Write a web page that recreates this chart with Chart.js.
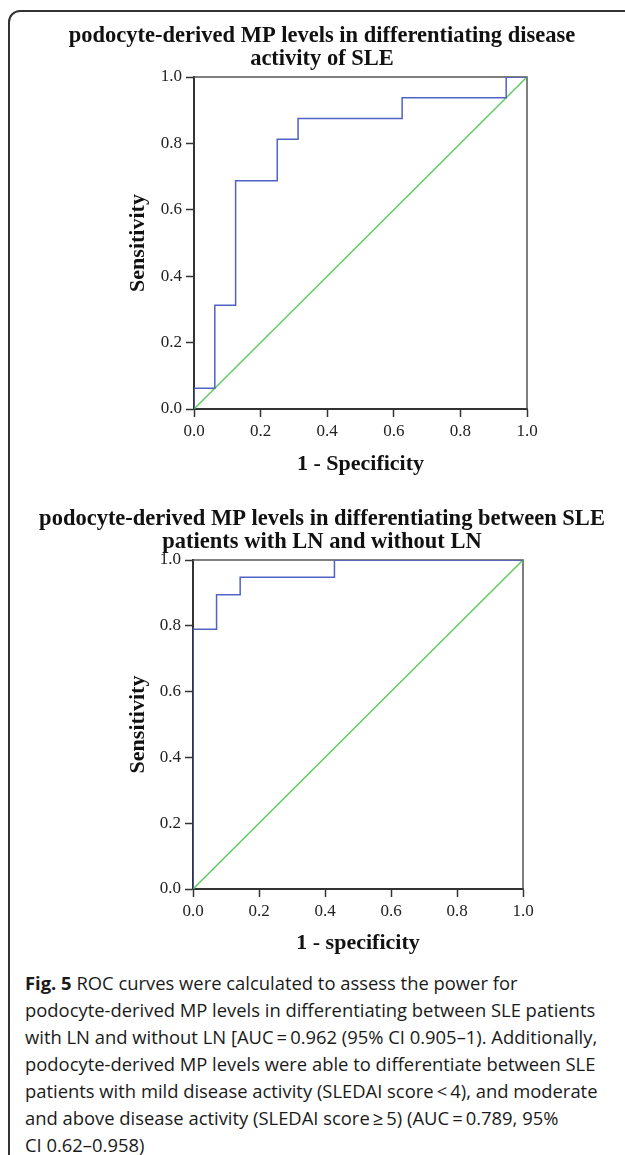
<!DOCTYPE html>
<html>
<head>
<meta charset="utf-8">
<script src="https://cdn.jsdelivr.net/npm/chart.js@4.4.0/dist/chart.umd.min.js"></script>
<style>
body { margin: 0; width: 625px; height: 1155px; overflow: hidden; background: #fff; position: relative; }
#frame { position: absolute; left: 8px; top: 10px; width: 700px; height: 1200px; border: 2px solid #333; border-top-left-radius: 12px; }
.box { position: absolute; left: 20px; width: 604px; }
#box1 { top: 20px; height: 460px; }
#box2 { top: 485px; height: 480px; }
#caption { position: absolute; left: 25px; top: 969px; width: 600px; font-family: "Open Sans", sans-serif; font-size: 18.4px; line-height: 27px; color: #1a1a1a; white-space: nowrap; }
</style>
</head>
<body>
<div id="frame"></div>
<div class="box" id="box1"><canvas id="roc1"></canvas></div>
<div class="box" id="box2"><canvas id="roc2"></canvas></div>
<div id="caption">
<b>Fig. 5</b> ROC curves were calculated to assess the power for<br>
podocyte-derived MP levels in differentiating between SLE patients<br>
with LN and without LN [AUC&#8201;=&#8201;0.962 (95% CI 0.905–1). Additionally,<br>
podocyte-derived MP levels were able to differentiate between SLE<br>
patients with mild disease activity (SLEDAI score&#8201;&lt;&#8201;4), and moderate<br>
and above disease activity (SLEDAI score&#8201;≥&#8201;5) (AUC&#8201;=&#8201;0.789, 95%<br>
CI 0.62–0.958)
</div>
<script>
// ROC curve 1: disease activity
var fpr1 = [0, 0, 0.0625, 0.125, 0.25, 0.3125, 0.625, 0.9375, 1];
var tpr1 = [0, 0.0625, 0.3125, 0.6875, 0.8125, 0.875, 0.9375, 1, 1];
// ROC curve 2: LN vs without LN
var fpr2 = [0, 0, 0.0714, 0.1429, 0.4286, 1];
var tpr2 = [0, 0.7895, 0.8947, 0.9474, 1, 1];
// reference diagonal
var refX = [0, 1];
var refY = [0, 1];
var axisTicks = [0, 0.2, 0.4, 0.6, 0.8, 1.0];

var title1 = ['podocyte-derived MP levels in differentiating disease', 'activity of SLE'];
var title2 = ['podocyte-derived MP levels in differentiating between SLE', 'patients with LN and without LN'];
var xTitle1 = '1 - Specificity';
var xTitle2 = '1 - specificity';
var yTitle = 'Sensitivity';

var SERIF = 'Liberation Serif';

function toPoints(xs, ys) {
    return xs.map(function (x, i) { return {x: x, y: ys[i]}; });
}

// thin box on top and right of the plot area
var plotBox = {
    id: 'plotBox',
    beforeDatasetsDraw: function (chart) {
        var a = chart.chartArea, ctx = chart.ctx;
        ctx.save();
        ctx.strokeStyle = '#555';
        ctx.lineWidth = 1.5;
        ctx.beginPath();
        ctx.moveTo(a.left, a.top);
        ctx.lineTo(a.right, a.top);
        ctx.lineTo(a.right, a.bottom);
        ctx.stroke();
        ctx.restore();
    }
};

function axis(titleText, size, titlePad) {
    return {
        type: 'linear',
        min: 0,
        max: 1,
        afterBuildTicks: function (s) { s.ticks = axisTicks.map(function (v) { return {value: v}; }); },
        afterFit: size,
        ticks: {
            callback: function (v) { return v.toFixed(1); },
            font: {family: SERIF, size: 17},
            color: '#222',
            padding: 4,
            maxRotation: 0,
            autoSkip: false
        },
        grid: {drawOnChartArea: false, tickLength: 8, tickColor: '#333', tickWidth: 1.5},
        border: {color: '#333', width: 2},
        title: {
            display: true,
            text: titleText,
            font: {family: SERIF, size: 22, weight: 'bold'},
            color: '#111',
            padding: titlePad
        }
    };
}

function createRoc(ctx, title, xTitle, fpr, tpr, padTop, padBottom, xh, xtPad, yw, rw) {
    return new Chart(ctx, {
        type: 'scatter',
        data: {
            datasets: [{
                data: toPoints(fpr, tpr),
                showLine: true,
                stepped: 'before',
                borderColor: '#4f62c6',
                borderWidth: 1.5,
                pointRadius: 0
            }, {
                data: toPoints(refX, refY),
                showLine: true,
                borderColor: '#5fcc5f',
                borderWidth: 1.5,
                pointRadius: 0
            }]
        },
        options: {
            responsive: true,
            maintainAspectRatio: false,
            animation: false,
            devicePixelRatio: 1,
            layout: {padding: {left: 0, right: 0, top: padTop, bottom: padBottom}},
            plugins: {
                legend: {display: false},
                tooltip: {enabled: false},
                title: {
                    display: true,
                    text: title,
                    font: {family: SERIF, size: 22.5, weight: 'bold', lineHeight: 1.0},
                    color: '#111',
                    padding: {top: 0, bottom: 7}
                }
            },
            scales: {
                x: axis(xTitle, function (s) { s.height = xh; }, {top: 4, bottom: xtPad}),
                y: axis(yTitle, function (s) { s.width = yw; }, {top: 105, bottom: 4}),
                // empty right-hand spacer so the title can use the full width
                yr: {
                    position: 'right',
                    min: 0,
                    max: 1,
                    ticks: {display: false},
                    grid: {display: false},
                    border: {display: false},
                    afterFit: function (s) { s.width = rw; }
                }
            }
        },
        plugins: [plotBox]
    });
}

createRoc(document.getElementById('roc1'), title1, xTitle1, fpr1, tpr1, 5, 0, 71, 2, 174, 97);
createRoc(document.getElementById('roc2'), title2, xTitle2, fpr2, tpr2, 23, 7, 69, 1, 173, 101);
</script>
</body>
</html>
